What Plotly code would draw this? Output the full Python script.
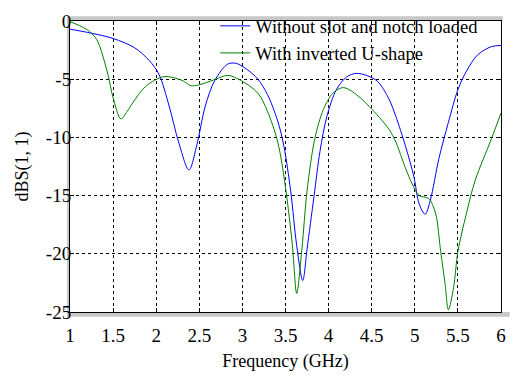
import plotly.graph_objects as go

# Reflection coefficient S11 (dB) versus frequency for two antenna variants
freq_plain = [1.0, 1.25, 1.5, 1.75, 1.92, 2.03, 2.15, 2.26, 2.38, 2.47, 2.57, 2.68,
              2.83, 2.93, 3.06, 3.18, 3.29, 3.41, 3.48, 3.56, 3.63, 3.70, 3.75, 3.83,
              3.90, 3.98, 4.09, 4.21, 4.32, 4.45, 4.57, 4.70, 4.78, 4.89, 4.99, 5.05,
              5.12, 5.18, 5.28, 5.39, 5.50, 5.60, 5.73, 5.89, 6.0]
s11_plain = [-0.7, -1.05, -1.5, -2.3, -3.4, -4.55, -7.3, -10.4, -12.8, -10.7, -7.3, -5.1,
             -3.7, -3.64, -4.2, -5.0, -6.3, -8.6, -10.7, -14.6, -19.3, -22.3, -19.6, -15.1,
             -11.2, -8.2, -5.9, -4.8, -4.5, -4.7, -5.2, -6.7, -8.2, -10.7, -13.4, -15.7,
             -16.6, -15.4, -11.8, -8.7, -5.9, -4.3, -2.9, -2.2, -2.1]

freq_ushape = [1.0, 1.11, 1.2, 1.31, 1.44, 1.5, 1.59, 1.66, 1.73, 1.88, 2.09, 2.30,
               2.40, 2.49, 2.68, 2.83, 2.98, 3.18, 3.29, 3.41, 3.50, 3.58, 3.63, 3.69,
               3.75, 3.84, 3.94, 4.05, 4.17, 4.30, 4.47, 4.70, 4.78, 4.89, 4.97, 5.05,
               5.16, 5.24, 5.30, 5.35, 5.39, 5.45, 5.50, 5.60, 5.70, 5.89, 6.0]
s11_ushape = [-0.05, -0.4, -0.75, -1.6, -4.6, -6.6, -8.4, -7.8, -7.0, -5.6, -4.78, -5.1,
              -5.55, -5.5, -5.03, -4.67, -5.1, -6.2, -7.75, -10.4, -14.3, -19.3, -23.4, -19.6,
              -14.6, -10.1, -7.6, -6.2, -5.72, -6.2, -7.33, -9.3, -10.4, -12.6, -14.0, -15.0,
              -15.25, -16.5, -19.8, -22.5, -24.8, -22.9, -19.8, -16.5, -13.7, -10.1, -7.9]

x_ticks = [1, 1.5, 2, 2.5, 3, 3.5, 4, 4.5, 5, 5.5, 6]
y_ticks = [0, -5, -10, -15, -20, -25]

font_family = "Times New Roman, Liberation Serif, serif"

fig = go.Figure()
fig.add_trace(go.Scatter(x=freq_plain, y=s11_plain, mode="lines",
                         name="Without slot and notch loaded",
                         line=dict(color="#0000FF", width=1, shape="spline", smoothing=0.9)))
fig.add_trace(go.Scatter(x=freq_ushape, y=s11_ushape, mode="lines",
                         name="With inverted U-shape",
                         line=dict(color="#008000", width=1, shape="spline", smoothing=0.9)))

# grey frame strips around the axes box
grey = "#C8C8C8"
frame = [
    dict(x0=-0.0069, x1=1.004, y0=1.0, y1=1.0167),   # top
    dict(x0=-0.0069, x1=1.02, y0=-0.0167, y1=0.0),   # bottom
    dict(x0=-0.0069, x1=0.0, y0=-0.0167, y1=1.0167), # left
]
shapes = [dict(type="rect", xref="paper", yref="paper", line=dict(width=0),
               fillcolor=grey, layer="below", **f) for f in frame]

axis_common = dict(
    showgrid=True, gridcolor="black", griddash="dot", gridwidth=1,
    zeroline=False, showline=True, linecolor="black", linewidth=1,
    mirror="allticks", ticks="inside", ticklen=4, tickcolor="black",
    tickfont=dict(family=font_family, size=19, color="black"),
)

fig.update_layout(
    width=513, height=381,
    margin=dict(l=70, r=7, t=12, b=69),
    paper_bgcolor="white", plot_bgcolor="white",
    font=dict(family=font_family, size=18, color="black"),
    shapes=shapes,
    showlegend=True,
    legend=dict(x=0.337, y=1.047, xanchor="left", yanchor="top",
                bgcolor="rgba(0,0,0,0)", borderwidth=0,
                font=dict(family=font_family, size=18.5, color="black"),
                tracegroupgap=0, itemwidth=30),
    xaxis=dict(range=[1, 6], tickvals=x_ticks, ticktext=[str(v) for v in x_ticks],
               ticklabelstandoff=6,
               title=dict(text="Frequency (GHz)", standoff=9,
                          font=dict(family=font_family, size=18, color="black")),
               **axis_common),
    yaxis=dict(range=[-25, 0], tickvals=y_ticks, ticktext=[str(v) for v in y_ticks],
               ticklabelstandoff=-6,
               title=dict(text="dBS(1, 1)", standoff=12,
                          font=dict(family=font_family, size=18, color="black")),
               **axis_common),
)

fig.write_html("out.html")
